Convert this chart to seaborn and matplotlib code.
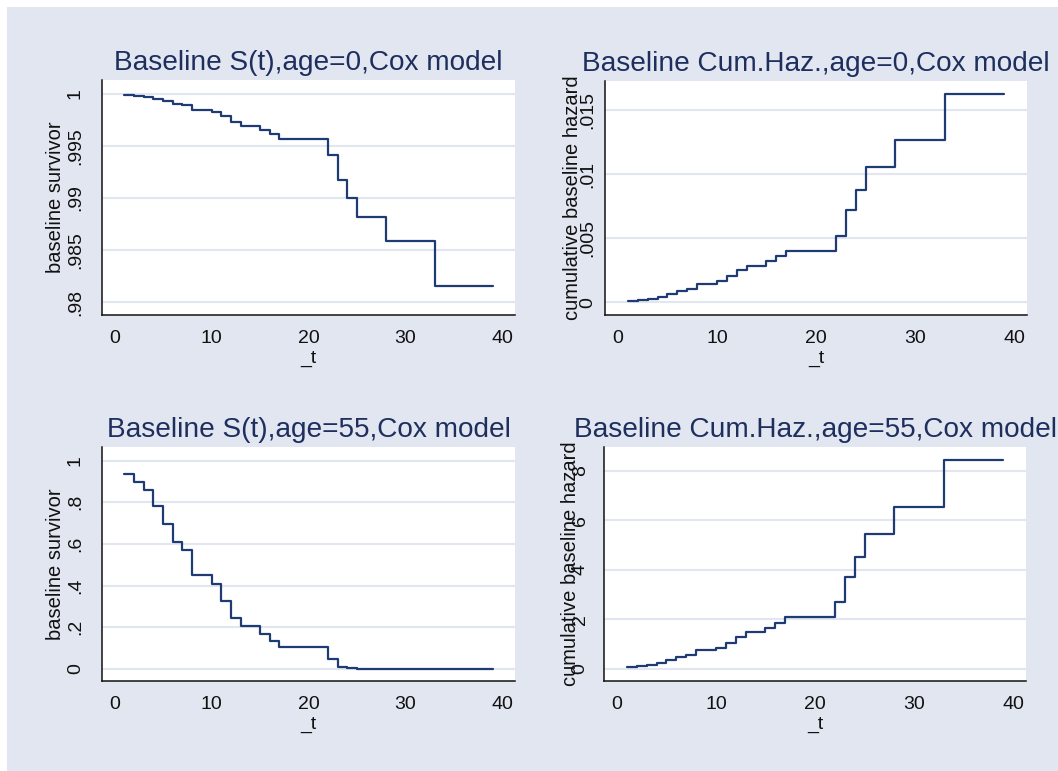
import matplotlib
matplotlib.use("Agg")
import matplotlib.pyplot as plt
import seaborn as sns
import pandas as pd

# step times (last entry repeats the final value up to the last follow-up time)
times = [1, 2, 3, 4, 5, 6, 7, 8, 10, 11, 12, 13, 15, 16, 17, 22, 23, 24, 25, 28, 33, 39]

surv_age0 = [0.99994, 0.99984, 0.99974, 0.99955, 0.99929, 0.99907, 0.99894, 0.99849,
             0.99830, 0.99788, 0.99734, 0.99696, 0.99654, 0.99615, 0.99564, 0.99417,
             0.99170, 0.99000, 0.98817, 0.98587, 0.98157, 0.98157]
cumhaz_age0 = [0.00012, 0.00019, 0.00029, 0.00044, 0.00065, 0.00090, 0.00106, 0.00145,
               0.00165, 0.00204, 0.00249, 0.00285, 0.00321, 0.00360, 0.00403, 0.00520,
               0.00718, 0.00874, 0.01053, 0.01266, 0.01628, 0.01628]
surv_age55 = [0.934, 0.896, 0.859, 0.782, 0.697, 0.609, 0.569, 0.452, 0.407, 0.327, 0.245,
              0.205, 0.168, 0.133, 0.104, 0.046, 0.010, 0.003, 0.0008, 0.0002, 0.00001, 0.00001]
cumhaz_age55 = [0.054, 0.094, 0.148, 0.229, 0.337, 0.458, 0.539, 0.741, 0.848, 1.05, 1.28,
                1.47, 1.64, 1.85, 2.09, 2.68, 3.70, 4.51, 5.44, 6.55, 8.42, 8.42]

titles = ["Baseline S(t),age=0,Cox model", "Baseline Cum.Haz.,age=0,Cox model",
          "Baseline S(t),age=55,Cox model", "Baseline Cum.Haz.,age=55,Cox model"]
ylabels = ["baseline survivor", "cumulative baseline hazard",
           "baseline survivor", "cumulative baseline hazard"]
yticks = [[0.98, 0.985, 0.99, 0.995, 1], [0, 0.005, 0.01, 0.015],
          [0, 0.2, 0.4, 0.6, 0.8, 1], [0, 2, 4, 6, 8]]
yticklabels = [[".98", ".985", ".99", ".995", "1"], ["0", ".005", ".01", ".015"],
               ["0", ".2", ".4", ".6", ".8", "1"], ["0", "2", "4", "6", "8"]]
xticks = [0, 10, 20, 30, 40]

sns.set_style("white")
plt.rcParams["font.family"] = ["Liberation Sans", "DejaVu Sans"]

BG = "#E1E6F0"
LINE = "#1F3B73"
TITLE = "#1E2F5E"

W, H = 1058, 771
fig = plt.figure(figsize=(W / 100, H / 100), dpi=100, facecolor="white")
fig.patches.append(plt.Rectangle((7 / W, 0), 1 - 7 / W, 1 - 7 / H, transform=fig.transFigure,
                                 facecolor=BG, edgecolor="none", zorder=-10))

# panel boxes in pixels: left, top, right, bottom
boxes = [(102, 80, 515, 315), (605, 81, 1027, 315),
         (102, 447, 515, 681), (604, 447, 1026, 681)]
ylims = [(0.97875, 1.00135), (-0.00099, 0.01726), (-0.059, 1.066), (-0.497, 8.957)]
series = [surv_age0, cumhaz_age0, surv_age55, cumhaz_age55]
ylab_x = [56, 572, 56, 570]
tick_pad = [8, 1, 8, 6]

for i in range(4):
    l, t, r, b = boxes[i]
    ax = fig.add_axes([l / W, 1 - b / H, (r - l) / W, (b - t) / H])
    ax.set_facecolor("white")
    df = pd.DataFrame({"_t": times, "y": series[i]})
    sns.lineplot(data=df, x="_t", y="y", ax=ax, drawstyle="steps-post",
                 color=LINE, linewidth=1.6, zorder=3)
    ax.set_xlim(-1.3, 41.3)
    ax.set_ylim(*ylims[i])
    ax.set_xticks(xticks)
    ax.set_xticklabels([str(v) for v in xticks])
    ax.set_yticks(yticks[i])
    ax.set_yticklabels(yticklabels[i], rotation=90, va="center")
    ax.grid(axis="y", color=BG, linewidth=1.5, zorder=1)
    ax.grid(axis="x", visible=False)
    for s in ["top", "right"]:
        ax.spines[s].set_visible(False)
    for s in ["left", "bottom"]:
        ax.spines[s].set_color("#111111")
        ax.spines[s].set_linewidth(1.1)
    ax.tick_params(axis="both", which="major", direction="out", length=5, width=1.1,
                   color="#444444", labelsize=14, labelcolor="#111111")
    ax.tick_params(axis="y", pad=tick_pad[i])
    ax.tick_params(axis="x", pad=6)
    ax.set_title(titles[i], fontsize=20.2, color=TITLE, pad=7)
    ax.set_xlabel("_t", fontsize=14, color="#111111", labelpad=2)
    ax.set_ylabel(ylabels[i], fontsize=14.5, color="#111111", va="center")
    ax.yaxis.set_label_coords((ylab_x[i] - l) / (r - l), 0.5)

fig.savefig("out.png", dpi=100, facecolor=fig.get_facecolor())
